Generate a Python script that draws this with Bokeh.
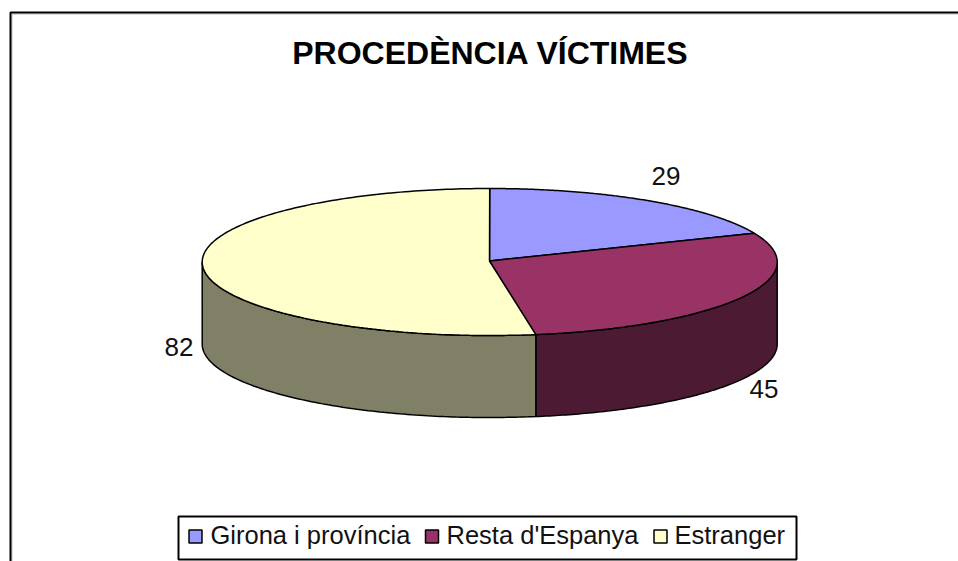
import numpy as np
from bokeh.plotting import figure
from bokeh.models import Range1d
from bokeh.core.properties import value
from bokeh.embed import file_html
from bokeh.resources import INLINE

title = "PROCEDÈNCIA VÍCTIMES"
categories = ["Girona i província", "Resta d'Espanya", "Estranger"]
values = [29, 45, 82]
top_colors = ["#9999FF", "#993366", "#FFFFCC"]
side_colors = ["#4D4D80", "#4D1A33", "#808066"]

CX, CY, A, B, DEPTH = 489.2, 261.5, 287.5, 73.5, 82
APEX_X, APEX_Y = 489, 260.5
FONT = "Liberation Sans"

p = figure(width=958, height=561, output_backend="svg", toolbar_location=None,
           x_range=Range1d(0, 958), y_range=Range1d(561, 0),
           min_border=0, min_border_left=0, min_border_right=0, min_border_top=0, min_border_bottom=0)
p.axis.visible = False
p.grid.visible = False
p.outline_line_color = None
p.background_fill_color = "white"

# chart frame with its thin grey inner shadow
p.line([11.5, 11.5], [13.5, 561], line_color="#BDBDBD", line_width=1)
p.line([11.5, 958], [13.5, 13.5], line_color="#BDBDBD", line_width=1)
p.line([10, 10, 958], [561, 12, 12], line_color="black", line_width=2)

total = sum(values)
edges = np.concatenate([[0], np.cumsum(values)]) / total * 2 * np.pi

def ell(t, dy=0.0):
    return CX + A * np.sin(t), CY - B * np.cos(t) + dy

# side walls: only the front half (quarter-turn to three-quarter-turn) is visible
for i in range(len(values)):
    lo, hi = max(edges[i], np.pi / 2), min(edges[i + 1], 3 * np.pi / 2)
    if hi <= lo:
        continue
    t = np.linspace(lo, hi, 120)
    x1, y1 = ell(t)
    x2, y2 = ell(t[::-1], DEPTH)
    p.patch(np.r_[x1, x2], np.r_[y1, y2], fill_color=side_colors[i],
            line_color="black", line_width=1.5)

# top slices
for i in range(len(values)):
    t = np.linspace(edges[i], edges[i + 1], 200)
    x, y = ell(t)
    p.patch(np.r_[APEX_X, x], np.r_[APEX_Y, y], fill_color=top_colors[i],
            line_color="black", line_width=1.5)

p.text([490], [52], text=[title], text_font=value(FONT), text_font_style="bold",
       text_font_size="32px", text_align="center", text_baseline="middle", text_color="black")

# value labels
p.text([665.5, 763.5, 178.5], [175, 388.5, 346], text=[str(v) for v in values],
       text_font=value(FONT), text_font_size="26px", text_align="center",
       text_baseline="middle", text_color="#111111")

# legend
p.quad(left=[178], right=[796], top=[516], bottom=[559], fill_color="white",
       line_color="black", line_width=2)
p.scatter([195, 431.5, 660], [536, 536, 536], marker="square", size=13,
          fill_color=top_colors, line_color="black", line_width=1.5)
p.text([210, 446, 674], [534.5, 534.5, 534.5], text=categories, text_font=value(FONT),
       text_font_size="25.5px", text_align="left", text_baseline="middle", text_color="#111111")

open("out.html", "w").write(file_html(p, INLINE))
